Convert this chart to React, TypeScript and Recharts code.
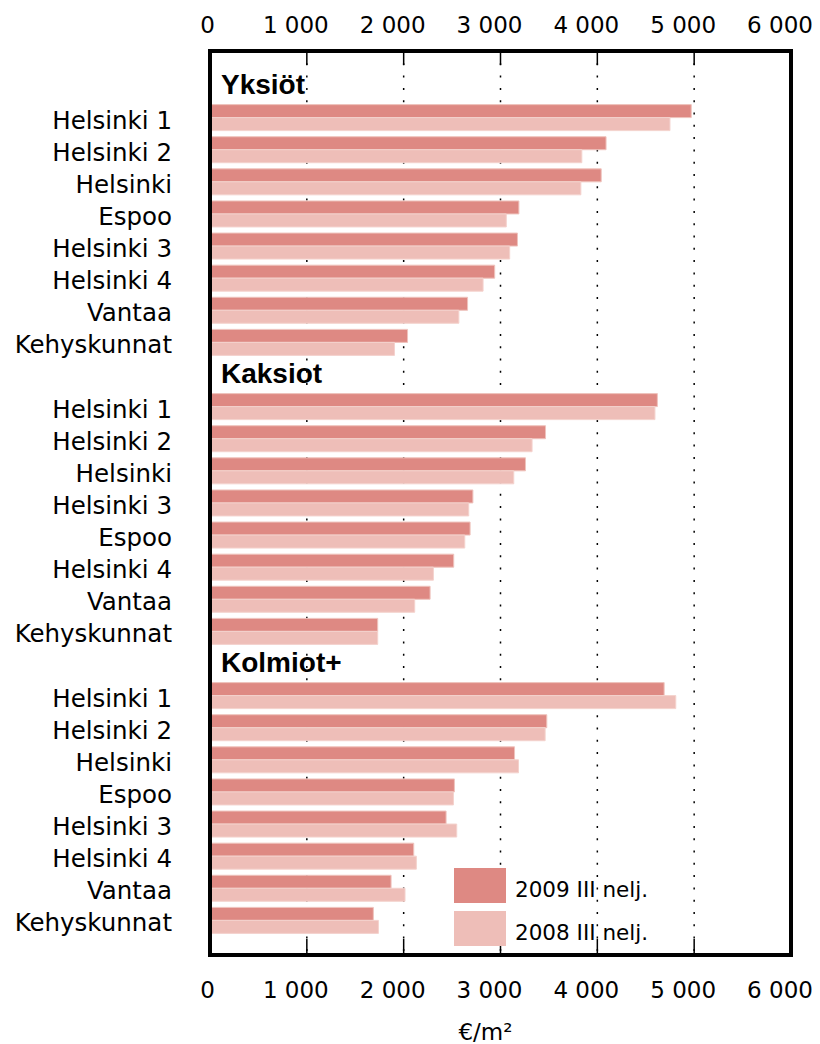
import React from "react";
import { ComposedChart, Bar, Line, XAxis, YAxis, CartesianGrid, Legend } from "recharts";

const groups = ["Yksiöt", "Kaksiot", "Kolmiot+"];

const yksiotAreas = ["Helsinki 1", "Helsinki 2", "Helsinki", "Espoo", "Helsinki 3", "Helsinki 4", "Vantaa", "Kehyskunnat"];
const yksiot2009 = [4970, 4090, 4040, 3190, 3175, 2940, 2660, 2040];
const yksiot2008 = [4750, 3840, 3830, 3060, 3095, 2820, 2570, 1905];

const kaksiotAreas = ["Helsinki 1", "Helsinki 2", "Helsinki", "Helsinki 3", "Espoo", "Helsinki 4", "Vantaa", "Kehyskunnat"];
const kaksiot2009 = [4620, 3465, 3258, 2715, 2686, 2517, 2273, 1732];
const kaksiot2008 = [4595, 3326, 3137, 2672, 2631, 2307, 2114, 1732];

const kolmiotAreas = ["Helsinki 1", "Helsinki 2", "Helsinki", "Espoo", "Helsinki 3", "Helsinki 4", "Vantaa", "Kehyskunnat"];
const kolmiot2009 = [4690, 3478, 3145, 2524, 2438, 2104, 1870, 1687];
const kolmiot2008 = [4810, 3461, 3186, 2514, 2548, 2131, 2014, 1739];

const xTicks = [0, 1000, 2000, 3000, 4000, 5000, 6000];
const seriesNames = ["2009 III nelj.", "2008 III nelj."];
const unitLabel = "€/m²";

const DARK = "#DE8983";
const LIGHT = "#EEBEB8";

type Row = { key: string; label: string; header: boolean; v2009: number | null; v2008: number | null };

const sections = [
  { title: groups[0], areas: yksiotAreas, a: yksiot2009, b: yksiot2008 },
  { title: groups[1], areas: kaksiotAreas, a: kaksiot2009, b: kaksiot2008 },
  { title: groups[2], areas: kolmiotAreas, a: kolmiot2009, b: kolmiot2008 },
];

const rows: Row[] = [];
sections.forEach((s) => {
  rows.push({ key: s.title, label: s.title, header: true, v2009: null, v2008: null });
  s.areas.forEach((area, i) =>
    rows.push({ key: `${s.title}|${area}`, label: area, header: false, v2009: s.a[i], v2008: s.b[i] })
  );
});
const rowByKey: Record<string, Row> = Object.fromEntries(rows.map((r) => [r.key, r]));

const fmt = (v: number) => (v === 0 ? "0" : `${Math.floor(v / 1000)} ${String(v % 1000).padStart(3, "0")}`);

function XTick(props: any) {
  const { x, y, payload, side } = props;
  const top = side === "top";
  const dx = payload.value === 0 ? -2.5 : -11;
  return (
    <g>
      {payload.value > 0 && payload.value < 6000 && (
        <line x1={x} x2={x} y1={y} y2={top ? y + 14 : y - 16} stroke="#000" strokeWidth={1.5} />
      )}
      <text x={x + dx} y={top ? y - 18 : y + 43} textAnchor="middle" fontSize={23} fontFamily="DejaVu Sans" fill="#000">
        {fmt(payload.value)}
      </text>
    </g>
  );
}

function YTick(props: any) {
  const { x, y, payload } = props;
  const row = rowByKey[payload.value];
  if (!row) return null;
  if (row.header) {
    return (
      <text x={x + 11} y={y + 8} fontSize={28} fontWeight="bold" fontFamily="Liberation Sans, Arial" fill="#000">
        {row.label}
      </text>
    );
  }
  return (
    <text x={x - 38} y={y + 11} textAnchor="end" fontSize={24.5} fontFamily="DejaVu Sans" fill="#000">
      {row.label}
    </text>
  );
}

const renderLegend = (props: any) => {
  const items = (props.payload || [])
    .filter((p: any) => seriesNames.includes(p.value))
    .sort((a: any, b: any) => seriesNames.indexOf(a.value) - seriesNames.indexOf(b.value));
  return (
    <div>
      {items.map((p: any, i: number) => (
        <div key={i} style={{ display: "flex", alignItems: "center", height: 35, marginBottom: 8 }}>
          <div style={{ width: 52, height: 35, background: p.color }} />
          <span style={{ marginLeft: 9, fontSize: 21.5, fontFamily: "DejaVu Sans", position: "relative", top: 4, color: "#000" }}>
            {p.value}
          </span>
        </div>
      ))}
    </div>
  );
};

const frame = { stroke: "#000", strokeWidth: 4, strokeLinecap: "square" as const };

export default function App() {
  return (
    <div style={{ position: "absolute", left: 0, top: 0, width: 820, height: 1044, background: "#fff" }}>
      <ComposedChart
        width={820}
        height={1044}
        data={rows}
        layout="vertical"
        margin={{ top: 0, right: 0, bottom: 0, left: 0 }}
        barCategoryGap={3}
        barGap={0}
        style={{ fontFamily: "DejaVu Sans" }}
      >
        <CartesianGrid horizontal={false} stroke="#000" strokeDasharray="2 10.3" strokeWidth={1.5} />
        <XAxis
          xAxisId="top"
          orientation="top"
          type="number"
          domain={[0, 6000]}
          ticks={xTicks}
          height={51}
          tickSize={0}
          tickMargin={0}
          axisLine={frame}
          tick={(p: any) => <XTick {...p} side="top" />}
          interval={0}
        />
        <XAxis
          type="number"
          domain={[0, 6000]}
          ticks={xTicks}
          height={89}
          tickSize={0}
          tickMargin={0}
          axisLine={frame}
          tick={(p: any) => <XTick {...p} side="bottom" />}
          interval={0}
          label={{ value: unitLabel, position: "insideBottom", offset: 4, dx: -15, fontSize: 23, fill: "#000", fontFamily: "DejaVu Sans" }}
        />
        <YAxis
          type="category"
          dataKey="key"
          width={210}
          tickSize={0}
          tickMargin={0}
          interval={0}
          padding={{ top: 18.5, bottom: 18.5 }}
          axisLine={frame}
          tick={YTick}
        />
        <YAxis
          yAxisId="r"
          orientation="right"
          type="category"
          dataKey="key"
          width={29}
          tick={false}
          tickLine={false}
          padding={{ top: 18.5, bottom: 18.5 }}
          axisLine={frame}
        />
        <Legend
          layout="vertical"
          align="center"
          verticalAlign="middle"
          content={renderLegend}
          wrapperStyle={{ left: 454, top: 868, width: 300 }}
        />
        <Bar dataKey="v2009" name={seriesNames[0]} fill={DARK} stroke="#EFC3BD" strokeWidth={1} isAnimationActive={false} />
        <Bar dataKey="v2008" name={seriesNames[1]} fill={LIGHT} stroke="#F4D2CD" strokeWidth={1} isAnimationActive={false} />
        {/* invisible series so the top axis gets a scale */}
        <Line
          xAxisId="top"
          dataKey="v2009"
          stroke="none"
          dot={false}
          activeDot={false}
          legendType="none"
          isAnimationActive={false}
        />
      </ComposedChart>
    </div>
  );
}
